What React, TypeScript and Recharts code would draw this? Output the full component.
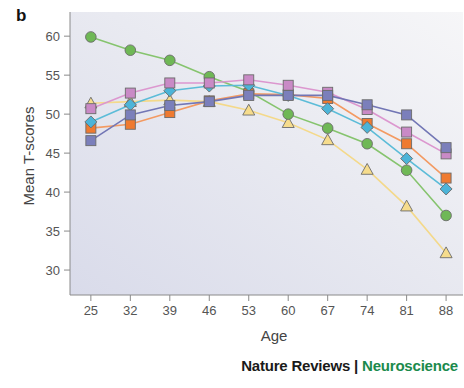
import React from "react";
import { CartesianGrid, Line, LineChart, XAxis, YAxis } from "recharts";

const ages = [25, 32, 39, 46, 53, 60, 67, 74, 81, 88];
const yTicks = [30, 35, 40, 45, 50, 55, 60];

const greenScores = [59.9, 58.2, 56.9, 54.8, 52.9, 50.0, 48.2, 46.2, 42.8, 37.0];
const yellowScores = [51.4, 51.6, 51.8, 51.6, 50.5, 48.9, 46.7, 42.9, 38.2, 32.2];
const pinkScores = [50.7, 52.7, 54.0, 54.0, 54.4, 53.7, 52.8, 50.6, 47.7, 44.9];
const cyanScores = [49.0, 51.2, 53.0, 53.6, 53.7, 52.4, 50.7, 48.3, 44.3, 40.4];
const purpleScores = [46.6, 49.9, 51.1, 51.6, 52.4, 52.4, 52.4, 51.2, 49.9, 45.7];
const orangeScores = [48.2, 48.7, 50.2, 51.7, 52.6, 52.5, 52.0, 48.8, 46.2, 41.8];

const data = ages.map((age, i) => ({
  age,
  green: greenScores[i],
  yellow: yellowScores[i],
  pink: pinkScores[i],
  cyan: cyanScores[i],
  purple: purpleScores[i],
  orange: orangeScores[i],
}));

const font = "'Liberation Sans', Arial, Helvetica, sans-serif";
const outline = "#6b6b6b";

type Shape = "circle" | "square" | "diamond" | "triangle";

function makeDot(shape: Shape, fill: string) {
  return (props: any) => {
    const { cx, cy, index } = props;
    const key = `${shape}-${fill}-${index}`;
    if (cx == null || cy == null) return <g key={key} />;
    if (shape === "circle") {
      return <circle key={key} cx={cx} cy={cy} r={5.3} fill={fill} stroke={outline} strokeWidth={0.9} />;
    }
    if (shape === "square") {
      return <rect key={key} x={cx - 5} y={cy - 5} width={10} height={10} fill={fill} stroke={outline} strokeWidth={0.9} />;
    }
    if (shape === "diamond") {
      const s = 6;
      return (
        <polygon
          key={key}
          points={`${cx},${cy - s} ${cx + s},${cy} ${cx},${cy + s} ${cx - s},${cy}`}
          fill={fill}
          stroke={outline}
          strokeWidth={0.9}
        />
      );
    }
    const s = 6;
    return (
      <polygon
        key={key}
        points={`${cx},${cy - s} ${cx + s},${cy + s * 0.8} ${cx - s},${cy + s * 0.8}`}
        fill={fill}
        stroke={outline}
        strokeWidth={0.9}
      />
    );
  };
}

const series = [
  { key: "yellow", line: "#f4d98a", fill: "#f6dc8c", shape: "triangle" as Shape },
  { key: "green", line: "#86c46e", fill: "#6fb856", shape: "circle" as Shape },
  { key: "orange", line: "#f39a62", fill: "#ef7a30", shape: "square" as Shape },
  { key: "cyan", line: "#5cbcd8", fill: "#4cb4d8", shape: "diamond" as Shape },
  { key: "pink", line: "#dc97cf", fill: "#c98ac6", shape: "square" as Shape },
  { key: "purple", line: "#7276b5", fill: "#7b7fbb", shape: "square" as Shape },
];

export default function App() {
  return (
    <div
      style={{
        position: "absolute",
        left: 0,
        top: 0,
        width: 464,
        height: 388,
        background: "#ffffff",
        fontFamily: font,
      }}
    >
      <LineChart width={464} height={330} data={data} margin={{ top: 12, right: 1, left: 0, bottom: 0 }}>
        <defs>
          <linearGradient id="plotBg" x1="0" y1="1" x2="1" y2="0">
            <stop offset="0%" stopColor="#d9dbea" />
            <stop offset="55%" stopColor="#e9eaf1" />
            <stop offset="100%" stopColor="#f6f6f8" />
          </linearGradient>
        </defs>
        <CartesianGrid horizontal={false} vertical={false} fill="url(#plotBg)" />
        <XAxis
          dataKey="age"
          type="number"
          domain={[21.3, 91]}
          ticks={ages}
          height={35}
          stroke="#8a8a8a"
          tickSize={6}
          tickMargin={5}
          tick={{ fill: "#555555", fontSize: 13, fontFamily: font }}
          allowDataOverflow
        />
        <YAxis
          type="number"
          domain={[26.8, 63.1]}
          ticks={yTicks}
          width={70}
          stroke="#8a8a8a"
          tickSize={6}
          tickMargin={4}
          tick={{ fill: "#555555", fontSize: 13, fontFamily: font }}
          allowDataOverflow
        />
        {series.map((s) => (
          <Line
            key={s.key}
            type="linear"
            dataKey={s.key}
            stroke={s.line}
            strokeWidth={1.6}
            dot={makeDot(s.shape, s.fill)}
            activeDot={false}
            isAnimationActive={false}
          />
        ))}
      </LineChart>
      <div style={{ position: "absolute", left: 16, top: 6, fontSize: 17, fontWeight: 700, color: "#111" }}>b</div>
      <div
        style={{
          position: "absolute",
          left: 28,
          top: 156,
          transform: "translate(-50%, -50%) rotate(-90deg)",
          fontSize: 15,
          color: "#444",
          whiteSpace: "nowrap",
        }}
      >
        Mean T-scores
      </div>
      <div
        style={{
          position: "absolute",
          left: 274,
          top: 335,
          transform: "translate(-50%, -50%)",
          fontSize: 15,
          color: "#444",
        }}
      >
        Age
      </div>
      <div
        style={{
          position: "absolute",
          right: 6,
          top: 357,
          fontSize: 15,
          fontWeight: 700,
          color: "#1a1a1a",
          whiteSpace: "nowrap",
          letterSpacing: -0.2,
        }}
      >
        Nature Reviews | <span style={{ color: "#1b8a4c" }}>Neuroscience</span>
      </div>
    </div>
  );
}
